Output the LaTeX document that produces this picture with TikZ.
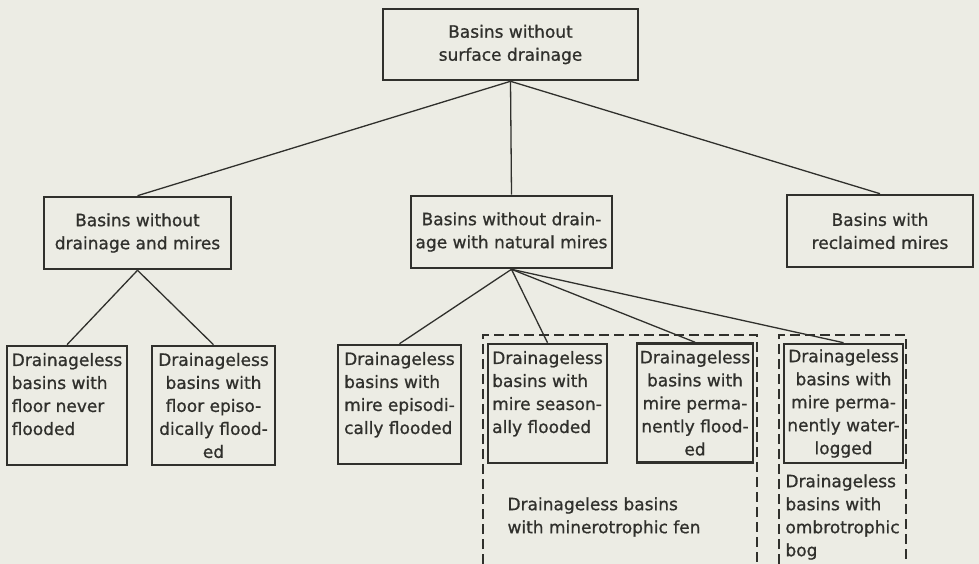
\documentclass[tikz,border=0pt]{standalone}
\usepackage{fontspec}
\setmainfont{DejaVu Sans}[FakeBold=0.9]
\usepackage{xcolor}
\usepackage{tikz}

\definecolor{ink}{RGB}{48,48,44}
\definecolor{paper}{RGB}{236,236,228}

\begin{document}
\begin{tikzpicture}[x=1pt, y=-1pt,
        every node/.style={font=\fontsize{17}{23}\selectfont, text=ink},
        box/.style={draw=ink, line width=2.6pt, inner sep=0pt, align=center},
        leafbox/.style={box, minimum height=119pt},
        link/.style={draw=ink, line width=1.3pt},
        frame/.style={draw=ink, line width=1.6pt, dash pattern=on 10pt off 5pt}]
        \useasboundingbox (0, 0) rectangle (979, 564);
        \fill[paper] (0, 0) rectangle (979, 564);

        % top
        \node[box, minimum width=255pt, minimum height=71pt] (top) at (510.5, 44.5) {Basins without\\surface drainage};

        % second row
        \node[box, minimum width=187pt, minimum height=72pt] (nodrain) at (137.5, 233) {Basins without\\drainage and mires};
        \node[box, minimum width=201pt, minimum height=72pt] (natural) at (511.5, 232) {Basins without drain-\\age with natural mires};
        \node[box, minimum width=186pt, minimum height=72pt] (reclaimed) at (880, 231) {Basins with\\reclaimed mires};

        % third row
        \node[leafbox, align=left, minimum width=120pt] (neverfl) at (67, 405.5) {Drainageless\\basins with\\floor never\\flooded\\\mbox{}};
        \node[leafbox, minimum width=123pt] (episfl) at (213.5, 405.5) {Drainageless\\basins with\\floor episo-\\dically flood-\\ed};
        \node[leafbox, align=left, minimum width=123pt] (mireepis) at (399.5, 404.5) {Drainageless\\basins with\\mire episodi-\\cally flooded\\\mbox{}};
        \node[leafbox, align=left, minimum width=119pt] (mireseas) at (547.5, 403.5) {Drainageless\\basins with\\mire season-\\ally flooded\\\mbox{}};
        \node[leafbox, minimum width=116pt] (mireperm) at (695, 403) {Drainageless\\basins with\\mire perma-\\nently flood-\\ed};
        \node[leafbox, minimum width=119pt] (mirelog) at (843.5, 403.5) {Drainageless\\basins with\\mire perma-\\nently water-\\logged};

        % dashed groups
        \draw[frame] (483, 564) -- (483, 335) -- (757, 335) -- (757, 564);
        \draw[frame] (779, 564) -- (779, 335) -- (906, 335) -- (906, 564);
        \node[align=left] (fen) at (604, 517) {Drainageless basins\\with minerotrophic fen};
        \node[align=left] (bog) at (842.5, 517) {Drainageless\\basins with\\ombrotrophic\\bog};

        \foreach \kid in {nodrain, natural, reclaimed}
            \draw[link] (top.south) -- (\kid.north);
        \foreach \kid in {neverfl, episfl}
            \draw[link] (nodrain.south) -- (\kid.north);
        \foreach \kid in {mireepis, mireseas, mireperm, mirelog}
            \draw[link] (natural.south) -- (\kid.north);
\end{tikzpicture}
\end{document}
